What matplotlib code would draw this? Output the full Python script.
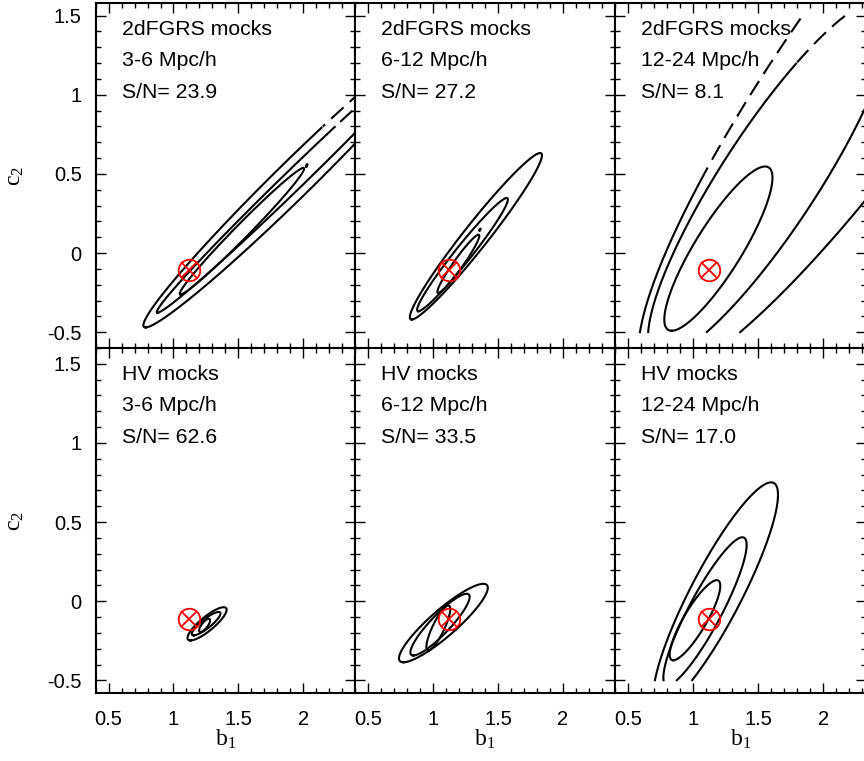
import numpy as np
import matplotlib
matplotlib.use("Agg")
import matplotlib.pyplot as plt
from matplotlib.ticker import MultipleLocator, FuncFormatter

plt.rcParams["font.family"] = ["Liberation Sans", "DejaVu Sans"]
plt.rcParams["mathtext.fontset"] = "custom"
plt.rcParams["mathtext.rm"] = "Liberation Serif"
plt.rcParams["mathtext.it"] = "Liberation Serif:italic"
plt.rcParams["axes.unicode_minus"] = False

# panel captions
samples = ["2dFGRS mocks"] * 3 + ["HV mocks"] * 3
scales = ["3-6 Mpc/h", "6-12 Mpc/h", "12-24 Mpc/h"] * 2
sn = [23.9, 27.2, 8.1, 62.6, 33.5, 17.0]

# fiducial (b1, c2) of the mocks
fid_b1 = 1.12
fid_c2 = -0.11

# confidence contours, one row per contour:
# (centre b1, centre c2, b1 shift to top, c2 half height, b1 half width, dashed above c2)
cont_2df_3_6 = [
    (1.929, 0.465, 1.144, 0.935, 0.20, 0.80),
    (1.926, 0.462, 1.049, 0.839, 0.11, 0.80),
    (1.528, 0.138, 0.474, 0.400, 0.075, None),
    (2.028, 0.554, 0.004, 0.008, 0.004, None),
]
cont_2df_6_12 = [
    (1.330, 0.106, 0.494, 0.526, 0.12, None),
    (1.227, -0.010, 0.340, 0.358, 0.08, None),
    (1.195, -0.068, 0.155, 0.184, 0.045, None),
    (1.362, 0.148, 0.004, 0.006, 0.003, None),
]
cont_2df_12_24 = [
    (2.435, 1.300, 1.692, 2.089, 0.759, 0.55),
    (1.593, 0.470, 0.831, 1.130, 0.438, 1.20),
    (1.195, 0.028, 0.359, 0.519, 0.210, None),
]
cont_hv_3_6 = [
    (1.259, -0.143, 0.128, 0.105, 0.080, None),
    (1.252, -0.142, 0.096, 0.074, 0.055, None),
    (1.240, -0.153, 0.032, 0.042, 0.028, None),
]
cont_hv_6_12 = [
    (1.080, -0.138, 0.307, 0.248, 0.150, None),
    (1.054, -0.148, 0.205, 0.195, 0.100, None),
    (1.041, -0.169, 0.077, 0.142, 0.050, None),
]
cont_hv_12_24 = [
    (1.174, 0.041, 0.426, 0.710, 0.220, None),
    (1.092, -0.063, 0.287, 0.467, 0.142, None),
    (1.015, -0.120, 0.167, 0.253, 0.100, None),
]
contours = [cont_2df_3_6, cont_2df_6_12, cont_2df_12_24,
            cont_hv_3_6, cont_hv_6_12, cont_hv_12_24]

c2_grid = (-0.5, 1.5)

fig = plt.figure(figsize=(8.64, 7.61), dpi=100)
W_FIG, H_FIG = 864.0, 761.0
col_px = [(95.7, 355.0), (355.0, 615.0), (615.0, 866.0)]
col_xlim = [(0.4, 2.4), (0.4, 2.4), (0.4, 2.33)]
row_px = [(3.0, 348.0), (348.0, 693.0)]
row_ylim = [(-0.6, 1.58), (-0.58, 1.6)]


def fmt(v, pos):
    v = round(v, 3)
    if v == 0:
        return "0"
    return f"{v:g}"


def draw_contour(ax, cx, cy, dx, dy, w, dash_above):
    t = np.linspace(-np.pi / 2, 3 * np.pi / 2, 721)
    x = cx + w * np.cos(t) + dx * np.sin(t)
    y = cy + dy * np.sin(t)
    out = (y < c2_grid[0]) | (y > c2_grid[1])
    x = np.where(out, np.nan, x)
    y = np.where(out, np.nan, y)
    if dash_above is None:
        ax.plot(x, y, color="black", lw=1.5)
        return
    dashed = (np.cos(t) < 0) & (y > dash_above)
    ax.plot(np.where(dashed, np.nan, x), np.where(dashed, np.nan, y),
            color="black", lw=1.5)
    ax.plot(np.where(dashed, x, np.nan), np.where(dashed, y, np.nan),
            color="black", lw=1.5, linestyle=(0, (8, 4)))


for i in range(6):
    r, c = divmod(i, 3)
    x0, x1 = col_px[c]
    y0, y1 = row_px[r]
    ax = fig.add_axes([x0 / W_FIG, 1 - y1 / H_FIG, (x1 - x0) / W_FIG, (y1 - y0) / H_FIG])
    ax.set_xlim(*col_xlim[c])
    ax.set_ylim(*row_ylim[r])

    for cont in contours[i]:
        draw_contour(ax, *cont)

    ax.plot(fid_b1, fid_c2, "o", ms=15.5, mfc="none", mec="red", mew=1.3, zorder=5)
    ax.plot(fid_b1, fid_c2, "x", ms=11, mec="red", mew=1.3, zorder=5)

    for k, line in enumerate([samples[i], scales[i], f"S/N= {sn[i]:.1f}"]):
        ax.annotate(line, xy=(0, 1), xycoords="axes fraction",
                    xytext=(19, -22.8 - 22.7 * k), textcoords="offset points",
                    fontsize=15.3, va="baseline", ha="left")

    ax.xaxis.set_major_locator(MultipleLocator(0.5))
    ax.xaxis.set_minor_locator(MultipleLocator(0.1))
    ax.yaxis.set_major_locator(MultipleLocator(0.5))
    ax.yaxis.set_minor_locator(MultipleLocator(0.1))
    ax.xaxis.set_major_formatter(FuncFormatter(fmt))
    ax.yaxis.set_major_formatter(FuncFormatter(fmt))
    ax.tick_params(which="both", direction="in", top=True, right=True,
                   width=1.0, labelsize=14.5)
    ax.tick_params(which="major", length=7)
    ax.tick_params(which="minor", length=3.5)
    ax.tick_params(axis="x", pad=12)
    ax.tick_params(axis="y", pad=10)
    for sp in ax.spines.values():
        sp.set_linewidth(1.5)

    if r == 0:
        ax.tick_params(labelbottom=False)
    else:
        ax.set_xlabel(r"$\mathrm{b}_1$", fontsize=17)
        ax.xaxis.set_label_coords(0.5, -0.10)
    if c == 0:
        ax.set_ylabel(r"$\mathrm{c}_2$", fontsize=17)
        ax.yaxis.set_label_coords(-0.27, 0.5)
    else:
        ax.tick_params(labelleft=False)

fig.savefig("out.png", dpi=100)
